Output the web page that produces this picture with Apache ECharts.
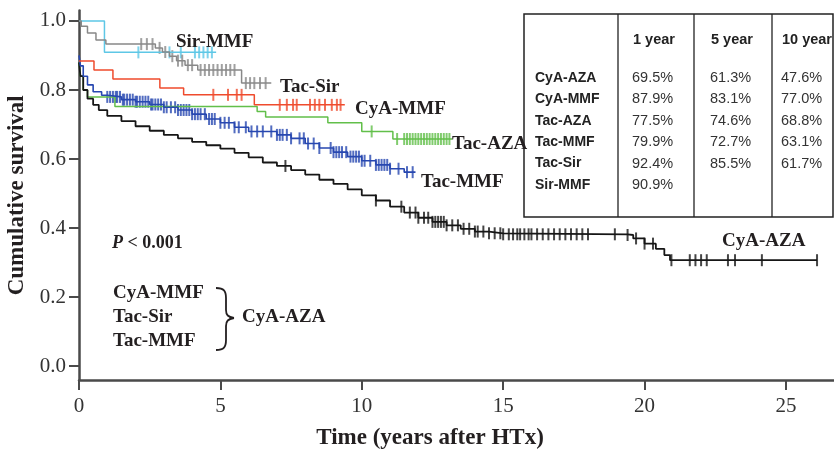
<!DOCTYPE html>
<html><head><meta charset="utf-8">
<script src="https://cdn.jsdelivr.net/npm/echarts@6/dist/echarts.min.js"></script>
<style>html,body{margin:0;padding:0;background:#fff}#c{width:834px;height:453px}</style>
</head><body><div id="c"></div>
<script>
const xTicks = [0, 5, 10, 15, 20, 25];
const yTicks = [0, 0.2, 0.4, 0.6, 0.8, 1.0];

// CyA-AZA (black)
const cyaAzaTime = [0,0.05,0.15,0.3,0.5,0.7,1.0,1.5,2.0,2.5,3.0,3.5,4.0,4.5,5.0,5.5,6.0,6.5,7.0,7.5,8.0,8.5,9.0,9.5,10.0,10.5,11.0,11.5,12.0,12.5,13.0,13.5,14.0,14.5,15.0,19.4,19.6,20.0,20.4,20.7,20.9,26.1];
const cyaAzaSurv = [0.88,0.84,0.80,0.775,0.757,0.742,0.725,0.71,0.695,0.682,0.67,0.66,0.65,0.64,0.63,0.618,0.605,0.59,0.58,0.568,0.555,0.54,0.528,0.512,0.495,0.48,0.462,0.445,0.43,0.418,0.408,0.398,0.39,0.385,0.382,0.38,0.37,0.355,0.34,0.322,0.307,0.307];
const cyaAzaCens = [7.3,10.5,11.4,11.7,11.9,12.0,12.2,12.35,12.5,12.6,12.7,12.8,12.9,13.0,13.2,13.4,13.6,13.8,14.0,14.1,14.3,14.5,14.7,14.9,15.0,15.2,15.35,15.5,15.6,15.75,15.9,16.0,16.2,16.4,16.6,16.8,17.0,17.2,17.4,17.6,17.8,18.0,18.95,19.4,19.7,20.0,20.3,20.95,21.6,21.8,22.0,22.2,22.95,23.2,24.15,26.1];

// Tac-MMF (blue)
const tacMmfTime = [0,0.05,0.15,0.3,0.5,0.8,1.0,1.5,2.0,2.5,3.0,3.5,4.0,4.5,5.0,5.5,6.0,7.0,7.5,8.0,8.5,9.0,9.5,10.0,10.5,11.0,11.5,11.9];
const tacMmfSurv = [0.90,0.87,0.84,0.815,0.795,0.785,0.78,0.772,0.766,0.758,0.75,0.742,0.73,0.716,0.705,0.692,0.68,0.67,0.66,0.645,0.632,0.62,0.607,0.595,0.583,0.572,0.562,0.562];
const tacMmfCens = [1.0,1.1,1.2,1.3,1.35,1.45,1.55,1.6,1.7,1.8,1.9,2.0,2.05,2.15,2.25,2.35,2.45,2.55,2.6,2.7,2.8,2.9,3.0,3.1,3.25,3.4,3.5,3.6,3.7,3.8,3.9,4.0,4.1,4.2,4.3,4.45,4.6,4.7,4.8,5.0,5.15,5.3,5.5,5.65,5.9,6.1,6.3,6.5,6.8,7.0,7.1,7.2,7.35,7.5,7.8,7.95,8.1,8.3,8.5,8.9,9.0,9.1,9.2,9.3,9.45,9.6,9.7,9.8,9.9,10.0,10.1,10.3,10.5,10.6,10.7,10.8,10.9,11.0,11.3,11.6,11.8];

// Tac-AZA (green)
const tacAzaTime = [0,0.05,0.15,0.3,1.27,6.3,6.6,8.8,10.0,11.1,13.2];
const tacAzaSurv = [0.88,0.84,0.80,0.78,0.752,0.738,0.722,0.705,0.68,0.658,0.658];
const tacAzaCens = [10.35,11.25,11.5,11.6,11.7,11.8,11.9,12.0,12.1,12.2,12.3,12.4,12.5,12.6,12.7,12.8,12.9,13.0,13.1];

// CyA-MMF (red)
const cyaMmfTime = [0,0.53,1.2,2.86,3.7,6.2,9.4];
const cyaMmfSurv = [0.884,0.858,0.832,0.806,0.786,0.757,0.757];
const cyaMmfCens = [4.75,5.27,5.58,5.75,7.1,7.35,7.57,7.7,8.17,8.34,8.5,8.7,8.94,9.12,9.25];

// Tac-Sir (gray)
const tacSirTime = [0,0.08,0.3,0.6,0.95,2.7,2.95,3.2,3.45,3.75,4.2,5.75,6.8];
const tacSirSurv = [1.0,0.985,0.965,0.945,0.933,0.922,0.91,0.898,0.885,0.872,0.858,0.82,0.82];
const tacSirCens = [2.2,2.4,2.6,2.85,3.05,3.3,3.5,3.65,3.85,4.0,4.3,4.45,4.6,4.75,4.9,5.05,5.2,5.35,5.5,5.9,6.05,6.2,6.4,6.6];

// Sir-MMF (cyan)
const sirMmfTime = [0,0.9,4.85];
const sirMmfSurv = [1.0,0.909,0.909];
const sirMmfCens = [2.1,3.2,3.6,4.1,4.25,4.4,4.55,4.7];

// Table
const tableHeaders = ['1 year', '5 year', '10 year'];
const tableGroups = ['CyA-AZA', 'CyA-MMF', 'Tac-AZA', 'Tac-MMF', 'Tac-Sir', 'Sir-MMF'];
const oneYear = ['69.5%', '87.9%', '77.5%', '79.9%', '92.4%', '90.9%'];
const fiveYear = ['61.3%', '83.1%', '74.6%', '72.7%', '85.5%', ''];
const tenYear = ['47.6%', '77.0%', '68.8%', '63.1%', '61.7%', ''];

function survAt(T, S, t) { let v = S[0]; for (let i = 0; i < T.length; i++) { if (T[i] <= t) v = S[i]; } return v; }

const groups = [
  {name:'Tac-AZA', T:tacAzaTime, S:tacAzaSurv, C:tacAzaCens, color:'#62bf4a', w:1.5},
  {name:'CyA-AZA', T:cyaAzaTime, S:cyaAzaSurv, C:cyaAzaCens, color:'#161616', w:1.8},
  {name:'Tac-MMF', T:tacMmfTime, S:tacMmfSurv, C:tacMmfCens, color:'#2747b0', w:1.6},
  {name:'CyA-MMF', T:cyaMmfTime, S:cyaMmfSurv, C:cyaMmfCens, color:'#ef4b2d', w:1.5},
  {name:'Sir-MMF', T:sirMmfTime, S:sirMmfSurv, C:sirMmfCens, color:'#5ec7e6', w:1.5},
  {name:'Tac-Sir', T:tacSirTime, S:tacSirSurv, C:tacSirCens, color:'#888888', w:1.5}
];

const series = [];
groups.forEach(g => {
  series.push({type:'line', name:g.name, step:'end', showSymbol:false, silent:true,
    data:g.T.map((t,i)=>[t,g.S[i]]), lineStyle:{color:g.color, width:g.w}, itemStyle:{color:g.color}});
  series.push({type:'scatter', name:g.name+' censored', symbol:'rect', symbolSize:[2,12], silent:true,
    data:g.C.map(t=>[t, survAt(g.T,g.S,t)]), itemStyle:{color:g.color}});
});

const serif = '"Liberation Serif","Times New Roman",serif';
const sans = '"Liberation Sans",Arial,sans-serif';
const txtColor = '#231f20';
function lbl(text, x, y, size) {
  return {type:'text', x:x, y:y, z:50, style:{text:text, fill:txtColor, font:'bold '+(size||19)+'px '+serif, align:'left', verticalAlign:'middle'}};
}
function bz(x1,y1,c1x,c1y,c2x,c2y,x2,y2){
  return {type:'bezierCurve', z:50, shape:{x1:x1,y1:y1,cpx1:c1x,cpy1:c1y,cpx2:c2x,cpy2:c2y,x2:x2,y2:y2}, style:{stroke:txtColor, lineWidth:1.8, fill:null}};
}
function ln(x1,y1,x2,y2,c,w,z){
  return {type:'line', z:z||50, shape:{x1:x1,y1:y1,x2:x2,y2:y2}, style:{stroke:c||txtColor, lineWidth:w||1.8}};
}

const graphics = [
  lbl('Sir-MMF', 176, 42), lbl('Tac-Sir', 280, 87), lbl('CyA-MMF', 355, 109),
  lbl('Tac-AZA', 452, 144), lbl('Tac-MMF', 421, 182), lbl('CyA-AZA', 722, 241),
  {type:'text', x:112, y:243, z:50, style:{text:'{i|P} < 0.001', fill:txtColor, font:'bold 18px '+serif, align:'left', verticalAlign:'middle',
    rich:{i:{fontStyle:'italic', fontWeight:'bold', fontSize:18, fontFamily:serif, fill:txtColor}}}},
  lbl('CyA-MMF', 113, 293), lbl('Tac-Sir', 113, 317), lbl('Tac-MMF', 113, 341),
  lbl('CyA-AZA', 242, 317),
  bz(216,288, 224,288, 226,291, 226,298), ln(226,298,226,310),
  bz(226,310, 226,315, 228,317, 234,318), bz(234,318, 228,319, 226,321, 226,326),
  ln(226,326,226,340), bz(226,340, 226,347, 224,350, 216,350),
  {type:'text', x:430, y:438, z:50, style:{text:'Time (years after HTx)', fill:txtColor, font:'bold 23px '+serif, align:'center', verticalAlign:'middle'}},
  // table
  {type:'rect', z:40, shape:{x:524, y:14, width:309, height:203}, style:{fill:'#fff', stroke:'#222', lineWidth:1.5}},
  ln(618,14,618,217,'#222',1.3,41), ln(694,14,694,217,'#222',1.3,41), ln(772,14,772,217,'#222',1.3,41)
];
const colX = [633, 711, 782];
tableHeaders.forEach((h,i)=>{
  graphics.push({type:'text', x:colX[i], y:40, z:42, style:{text:h, fill:'#222', font:'bold 14.5px '+sans, align:'left', verticalAlign:'middle'}});
});
const cols = [oneYear, fiveYear, tenYear];
tableGroups.forEach((g,r)=>{
  const y = 78 + r*21.4;
  graphics.push({type:'text', x:535, y:y, z:42, style:{text:g, fill:'#222', font:'bold 14px '+sans, align:'left', verticalAlign:'middle'}});
  cols.forEach((col,i)=>{
    if (col[r]) graphics.push({type:'text', x:colX[i]-1, y:y, z:42, style:{text:col[r], fill:'#333', font:'14.5px '+sans, align:'left', verticalAlign:'middle'}});
  });
});

const chart = echarts.init(document.getElementById('c'), null, {renderer:'canvas'});
chart.setOption({
  backgroundColor:'#fff',
  animation:false,
  grid:{left:79, right:0, top:10.6, bottom:73, containLabel:false, outerBoundsMode:'none'},
  xAxis:{type:'value', min:0, max:26.7,
    axisLine:{onZero:false, lineStyle:{color:'#4a4a4a', width:2.5}},
    axisTick:{customValues:xTicks, length:10, lineStyle:{color:'#4a4a4a', width:2}},
    axisLabel:{customValues:xTicks, margin:16, color:'#333', fontSize:21, fontFamily:serif},
    splitLine:{show:false}},
  yAxis:{type:'value', min:-0.04, max:1.03,
    name:'Cumulative survival', nameLocation:'middle', nameGap:42, nameRotate:90,
    nameTextStyle:{color:txtColor, fontSize:23, fontWeight:'bold', fontFamily:serif},
    axisLine:{onZero:false, lineStyle:{color:'#4a4a4a', width:2.5}},
    axisTick:{customValues:yTicks, length:10, lineStyle:{color:'#4a4a4a', width:2}},
    axisLabel:{customValues:yTicks, margin:13, color:'#333', fontSize:21, fontFamily:serif, formatter:v=>v.toFixed(1)},
    splitLine:{show:false}},
  series:series,
  graphic:graphics
});
</script></body></html>
